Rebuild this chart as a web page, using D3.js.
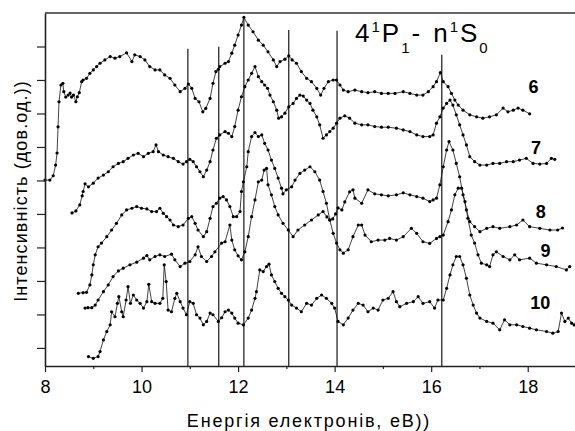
<!DOCTYPE html>
<html lang="uk">

<head>
	<meta charset="utf-8">
	<title>4P1 - nS0</title>
	<style>
		html, body { margin: 0; padding: 0; background: #fff; }
		svg { display: block; font-family: "Liberation Sans", Arial, sans-serif; }
	</style>
</head>

<body>
	<script src="https://cdn.jsdelivr.net/npm/d3@7"></script>
	<script>

		// energy (eV) range and axis ticks
		const energyDomain = [8, 19];
		const majorTicks = [8, 10, 12, 14, 16, 18];
		const minorTicks = [9, 11, 13, 15, 17];
		const intensityTicks = [0, 1, 2, 3, 4, 5, 6, 7, 8, 9];

		// vertical marker lines: energy and height of top end
		const markEnergy = [10.96, 11.60, 12.12, 13.05, 14.05, 16.22];
		const markTop = [8.93, 8.99, 9.87, 9.49, 9.47, 8.75];

		// spectra [energy, intensity]
		const spectrum6 = [[8.00,5.01],[8.10,5.01],[8.17,5.14],[8.22,5.46],[8.25,5.82],[8.27,6.60],[8.29,7.35],[8.33,7.85],[8.37,7.90],[8.39,7.65],[8.43,7.49],[8.48,7.55],[8.52,7.61],[8.55,7.49],[8.59,7.55],[8.64,7.35],[8.67,7.50],[8.71,7.62],[8.76,7.95],[8.79,8.00],[8.86,8.05],[8.93,8.20],[9.00,8.30],[9.07,8.40],[9.14,8.50],[9.24,8.60],[9.35,8.70],[9.45,8.65],[9.55,8.70],[9.69,8.81],[9.80,8.55],[9.86,8.75],[9.97,8.70],[10.07,8.60],[10.17,8.40],[10.28,8.30],[10.38,8.30],[10.48,8.15],[10.59,8.05],[10.69,7.85],[10.80,7.65],[10.90,7.75],[10.97,7.88],[11.04,7.75],[11.11,7.45],[11.19,7.35],[11.27,7.05],[11.33,7.15],[11.42,7.45],[11.48,7.90],[11.54,8.25],[11.59,8.32],[11.62,8.40],[11.73,8.50],[11.80,8.55],[11.87,8.80],[11.93,9.04],[12.00,9.34],[12.07,9.64],[12.12,9.87],[12.21,9.64],[12.31,9.44],[12.42,9.19],[12.52,9.04],[12.62,8.84],[12.73,8.60],[12.80,8.40],[12.87,8.55],[12.97,8.62],[13.05,8.72],[13.12,8.60],[13.21,8.50],[13.31,8.25],[13.42,8.05],[13.52,7.95],[13.63,7.75],[13.71,7.55],[13.78,7.75],[13.87,7.95],[13.97,8.00],[14.04,8.00],[14.11,7.85],[14.18,7.70],[14.28,7.65],[14.42,7.70],[14.56,7.65],[14.69,7.62],[14.83,7.65],[14.97,7.60],[15.11,7.60],[15.25,7.60],[15.42,7.65],[15.56,7.60],[15.70,7.55],[15.83,7.55],[15.94,7.65],[16.04,7.80],[16.11,7.95],[16.19,8.22],[16.25,7.95],[16.35,7.80],[16.42,7.60],[16.49,7.40],[16.56,7.25],[16.66,7.10],[16.80,6.96],[16.94,6.90],[17.07,6.86],[17.21,6.90],[17.35,6.96],[17.49,7.16],[17.59,7.05],[17.70,7.10],[17.80,7.16],[17.90,7.10],[18.04,6.99]];

		const spectrum7 = [[8.56,4.03],[8.64,4.09],[8.72,4.27],[8.77,4.54],[8.79,4.67],[8.83,4.90],[8.90,4.81],[9.00,4.92],[9.10,5.07],[9.21,5.16],[9.31,5.26],[9.41,5.41],[9.52,5.51],[9.62,5.56],[9.72,5.66],[9.83,5.76],[9.93,5.81],[10.04,5.71],[10.14,5.81],[10.24,5.86],[10.30,6.06],[10.35,5.86],[10.45,5.76],[10.55,5.71],[10.66,5.66],[10.76,5.56],[10.86,5.49],[10.93,5.56],[11.00,5.63],[11.07,5.56],[11.14,5.41],[11.21,5.26],[11.28,5.11],[11.35,5.31],[11.42,5.56],[11.48,5.91],[11.55,6.26],[11.62,6.36],[11.73,6.46],[11.80,6.41],[11.87,6.31],[11.93,6.61],[12.00,7.10],[12.07,7.50],[12.14,7.80],[12.21,8.00],[12.28,8.20],[12.35,8.40],[12.42,8.10],[12.49,7.95],[12.55,7.85],[12.61,7.75],[12.66,7.55],[12.73,7.35],[12.80,7.10],[12.84,6.86],[12.90,6.90],[12.97,7.01],[13.05,7.20],[13.14,7.30],[13.21,7.45],[13.28,7.55],[13.35,7.52],[13.42,7.40],[13.49,7.30],[13.55,7.10],[13.63,6.90],[13.69,6.66],[13.76,6.26],[13.83,6.36],[13.90,6.46],[13.97,6.56],[14.04,6.71],[14.11,6.86],[14.21,6.93],[14.31,6.86],[14.42,6.71],[14.56,6.66],[14.69,6.66],[14.83,6.61],[14.97,6.59],[15.11,6.59],[15.28,6.56],[15.42,6.51],[15.56,6.46],[15.70,6.36],[15.83,6.31],[15.97,6.31],[16.04,6.36],[16.11,6.71],[16.18,6.90],[16.25,7.16],[16.32,7.30],[16.39,7.40],[16.45,7.25],[16.52,6.96],[16.59,6.66],[16.66,6.36],[16.73,6.06],[16.80,5.71],[16.90,5.56],[17.01,5.46],[17.15,5.46],[17.28,5.51],[17.42,5.51],[17.56,5.56],[17.70,5.56],[17.83,5.61],[17.97,5.66],[18.11,5.51],[18.25,5.49],[18.39,5.51],[18.49,5.66],[18.56,5.63]];

		const spectrum8 = [[8.83,1.19],[8.89,1.20],[8.97,1.20],[9.04,1.28],[9.10,1.43],[9.21,1.68],[9.31,1.88],[9.41,2.13],[9.52,2.30],[9.62,2.38],[9.76,2.48],[9.90,2.56],[10.04,2.68],[10.11,2.76],[10.17,2.63],[10.28,2.73],[10.38,2.78],[10.48,2.73],[10.62,2.80],[10.69,2.63],[10.80,2.43],[10.90,2.53],[11.00,2.58],[11.11,2.78],[11.17,3.02],[11.24,2.73],[11.35,2.58],[11.45,2.73],[11.52,2.87],[11.66,3.13],[11.73,3.17],[11.83,3.67],[11.87,3.22],[11.93,2.93],[12.00,2.75],[12.07,2.63],[12.14,2.87],[12.21,3.32],[12.28,3.92],[12.35,4.42],[12.42,4.96],[12.49,5.01],[12.54,5.31],[12.59,5.36],[12.62,4.87],[12.69,4.57],[12.76,4.22],[12.83,3.97],[12.93,3.72],[13.04,3.52],[13.14,3.32],[13.24,3.52],[13.38,3.67],[13.52,3.82],[13.66,3.97],[13.76,4.07],[13.84,3.91],[13.90,3.82],[13.96,3.85],[14.02,4.00],[14.07,4.18],[14.15,4.12],[14.21,4.36],[14.31,4.66],[14.38,4.72],[14.42,4.47],[14.56,4.32],[14.69,4.72],[14.83,4.60],[14.97,4.57],[15.11,4.54],[15.28,4.57],[15.42,4.63],[15.56,4.57],[15.70,4.52],[15.83,4.47],[15.97,4.37],[16.04,4.42],[16.11,4.47],[16.18,4.87],[16.25,5.41],[16.32,5.91],[16.37,6.16],[16.45,5.91],[16.52,5.51],[16.59,5.11],[16.66,4.57],[16.73,4.12],[16.80,3.77],[16.90,3.62],[17.01,3.47],[17.15,3.57],[17.28,3.62],[17.42,3.57],[17.63,3.62],[17.77,3.67],[17.90,3.82],[18.04,3.62],[18.25,3.57],[18.46,3.52],[18.62,3.52],[18.72,3.58]];

		const spectrum9 = [[8.69,1.63],[8.79,1.65],[8.86,1.66],[8.93,1.88],[8.97,2.18],[9.00,2.48],[9.04,2.78],[9.10,3.02],[9.17,3.13],[9.28,3.32],[9.38,3.52],[9.48,3.72],[9.59,3.97],[9.69,4.12],[9.80,4.17],[9.90,4.22],[10.00,4.17],[10.11,4.15],[10.21,4.07],[10.31,4.07],[10.38,4.17],[10.45,4.02],[10.52,3.92],[10.59,3.82],[10.66,3.67],[10.76,3.62],[10.86,3.67],[10.97,3.87],[11.04,3.92],[11.11,3.72],[11.17,3.52],[11.28,3.32],[11.35,3.47],[11.42,3.87],[11.48,4.22],[11.55,4.32],[11.62,4.47],[11.69,4.52],[11.76,4.42],[11.83,4.22],[11.90,3.92],[11.97,3.92],[12.04,4.07],[12.07,4.67],[12.11,4.96],[12.18,5.41],[12.21,5.86],[12.28,6.31],[12.35,6.43],[12.42,6.31],[12.49,6.36],[12.55,6.11],[12.62,5.91],[12.69,5.61],[12.76,5.36],[12.83,5.07],[12.90,4.77],[12.93,4.60],[13.00,4.72],[13.11,4.81],[13.18,5.01],[13.28,5.21],[13.38,5.31],[13.49,5.41],[13.59,5.26],[13.69,5.01],[13.76,4.67],[13.83,4.32],[13.90,3.82],[13.97,3.42],[14.04,3.13],[14.11,2.93],[14.18,2.83],[14.28,2.93],[14.38,3.32],[14.49,3.67],[14.56,3.67],[14.63,3.37],[14.76,3.17],[14.90,3.22],[15.04,3.22],[15.14,3.27],[15.28,3.22],[15.42,3.32],[15.59,3.57],[15.70,3.42],[15.83,3.17],[15.97,3.12],[16.11,3.27],[16.18,3.32],[16.25,3.37],[16.35,3.77],[16.42,4.12],[16.49,4.57],[16.56,4.77],[16.63,4.77],[16.70,4.37],[16.76,3.87],[16.83,3.37],[16.90,3.13],[16.97,2.78],[17.04,2.53],[17.15,2.48],[17.21,2.43],[17.28,2.78],[17.35,2.87],[17.49,2.73],[17.63,2.63],[17.73,2.78],[17.83,2.63],[18.04,2.68],[18.18,2.53],[18.39,2.48],[18.59,2.43],[18.80,2.33],[18.87,2.43]];

		const spectrum10 = [[8.90,-0.26],[9.00,-0.31],[9.10,-0.26],[9.14,-0.11],[9.21,0.24],[9.28,0.49],[9.35,0.69],[9.38,1.08],[9.45,0.93],[9.50,1.33],[9.53,1.53],[9.59,1.08],[9.62,0.93],[9.68,1.43],[9.72,1.83],[9.77,1.33],[9.83,1.58],[9.90,1.43],[9.97,1.33],[10.04,1.19],[10.11,1.38],[10.15,1.90],[10.21,1.38],[10.28,1.33],[10.38,1.33],[10.44,1.48],[10.47,2.48],[10.51,1.98],[10.55,1.13],[10.62,1.08],[10.69,1.48],[10.73,1.63],[10.80,1.38],[10.86,1.19],[10.93,0.99],[11.00,1.38],[11.07,1.33],[11.14,0.99],[11.21,0.89],[11.28,0.69],[11.35,0.79],[11.42,1.04],[11.48,0.99],[11.59,0.79],[11.66,0.90],[11.73,1.08],[11.80,1.13],[11.87,1.04],[11.93,0.89],[12.00,0.74],[12.11,0.69],[12.21,0.89],[12.28,1.13],[12.35,1.48],[12.38,1.68],[12.45,2.33],[12.52,2.28],[12.59,2.43],[12.64,2.50],[12.69,2.18],[12.76,1.98],[12.83,1.78],[12.90,1.63],[12.97,1.53],[13.04,1.43],[13.11,1.28],[13.21,1.19],[13.31,1.08],[13.42,1.33],[13.52,1.28],[13.63,1.48],[13.73,1.58],[13.83,1.48],[13.94,1.33],[14.00,1.19],[14.07,0.79],[14.18,0.69],[14.28,0.89],[14.38,1.13],[14.49,1.33],[14.59,1.28],[14.69,1.08],[14.80,1.19],[14.90,1.13],[15.00,1.43],[15.11,1.48],[15.21,1.68],[15.28,1.38],[15.35,1.23],[15.49,1.33],[15.63,1.38],[15.73,1.53],[15.83,1.33],[15.97,1.38],[16.07,1.19],[16.14,1.43],[16.25,1.43],[16.32,1.78],[16.39,2.18],[16.45,2.48],[16.52,2.73],[16.59,2.73],[16.66,2.48],[16.73,2.08],[16.80,1.58],[16.87,1.28],[16.94,1.04],[17.01,0.89],[17.15,0.79],[17.28,0.74],[17.42,0.54],[17.52,0.84],[17.63,0.69],[17.77,0.69],[17.90,0.64],[18.04,0.59],[18.18,0.54],[18.39,0.49],[18.52,0.44],[18.63,0.49],[18.70,1.04],[18.77,0.79],[18.84,0.89],[18.91,0.74],[18.96,0.69]];

		const spectra = [spectrum6, spectrum7, spectrum8, spectrum9, spectrum10];
		const spectrumNames = ["6", "7", "8", "9", "10"];
		// label anchor [energy, intensity] of each curve number
		const nameAt = [[18.12, 7.61], [18.17, 5.79], [18.27, 3.88], [18.37, 2.72], [18.26, 1.16]];

		draw();
		function draw() {

			const width = 575, height = 431;
			const left = 45, top = 13, bottom = 366;

			const svg = d3.select(document.body)
				.append("svg")
				.attr("width", width)
				.attr("height", height);

			const x = d3.scaleLinear()
				.domain(energyDomain)
				.range([left, 576]);

			const y = d3.scaleLinear()
				.domain([-0.54, 10])
				.range([bottom, top]);

			// vertical marker lines
			svg.append("g")
				.selectAll("line")
				.data(markEnergy)
				.join("line")
				.attr("x1", (d) => x(d))
				.attr("x2", (d) => x(d))
				.attr("y1", (d, i) => y(markTop[i]))
				.attr("y2", bottom)
				.attr("stroke", "#000")
				.attr("stroke-width", 1.1);

			// spectra
			const line = d3.line()
				.x((d) => x(d[0]))
				.y((d) => y(d[1]));

			const gCurve = svg.append("g")
				.selectAll("g")
				.data(spectra)
				.join("g");

			gCurve.append("path")
				.attr("d", (d) => line(d))
				.attr("fill", "none")
				.attr("stroke", "#111")
				.attr("stroke-width", 0.8);

			gCurve.selectAll("circle")
				.data((d) => d)
				.join("circle")
				.attr("cx", (d) => x(d[0]))
				.attr("cy", (d) => y(d[1]))
				.attr("r", 1.6)
				.attr("fill", "#000");

			// axes
			const xAxis = svg.append("g")
				.attr("transform", `translate(0,${bottom})`)
				.call(d3.axisBottom(x).tickValues(majorTicks).tickSize(6).tickSizeOuter(0).tickPadding(8));

			xAxis.selectAll("text")
				.attr("font-size", 18)
				.attr("font-family", "Liberation Sans, Arial, sans-serif")
				.attr("fill", "#000");

			svg.append("g")
				.attr("transform", `translate(0,${bottom})`)
				.call(d3.axisBottom(x).tickValues(minorTicks).tickSize(3).tickSizeOuter(0).tickFormat(""))
				.select(".domain").remove();

			svg.append("g")
				.attr("transform", `translate(${left},0)`)
				.call(d3.axisLeft(y).tickValues(intensityTicks).tickSize(8).tickSizeOuter(0).tickFormat(""));

			svg.selectAll(".domain")
				.attr("stroke", "#222")
				.attr("stroke-width", 1.6);
			svg.selectAll(".tick line")
				.attr("stroke", "#222")
				.attr("stroke-width", 1.2);

			// top frame line
			svg.append("line")
				.attr("x1", left)
				.attr("x2", width)
				.attr("y1", top)
				.attr("y2", top)
				.attr("stroke", "#333")
				.attr("stroke-width", 1.6);

			// axis titles
			svg.append("text")
				.attr("x", 309)
				.attr("y", 427)
				.attr("text-anchor", "middle")
				.attr("font-size", 18)
				.attr("letter-spacing", 1.8)
				.text("Енергія електронів, еВ))");

			svg.append("text")
				.attr("transform", "translate(27,191) rotate(-90)")
				.attr("text-anchor", "middle")
				.attr("font-size", 18)
				.attr("letter-spacing", 1.1)
				.text("Інтенсивність (дов.од.))");

			// transition title 4¹P₁- n¹S₀
			const title = svg.append("text")
				.attr("x", 355)
				.attr("y", 42)
				.attr("font-size", 26)
				.attr("letter-spacing", 2);
			title.append("tspan").text("4");
			title.append("tspan").attr("font-size", 15).attr("dy", -10).text("1");
			title.append("tspan").attr("dy", 10).text("P");
			title.append("tspan").attr("font-size", 15).attr("dy", 11).text("1");
			title.append("tspan").attr("dy", -11).text("-");
			title.append("tspan").attr("dx", 11).text("n");
			title.append("tspan").attr("font-size", 15).attr("dy", -10).text("1");
			title.append("tspan").attr("dy", 10).text("S");
			title.append("tspan").attr("font-size", 15).attr("dy", 11).text("0");

			// curve numbers
			svg.append("g")
				.selectAll("text")
				.data(spectrumNames)
				.join("text")
				.attr("x", (d, i) => x(nameAt[i][0]))
				.attr("y", (d, i) => y(nameAt[i][1]))
				.attr("text-anchor", "middle")
				.attr("font-size", 18)
				.attr("font-weight", "bold")
				.text((d) => d);
		}

	</script>
</body>

</html>
